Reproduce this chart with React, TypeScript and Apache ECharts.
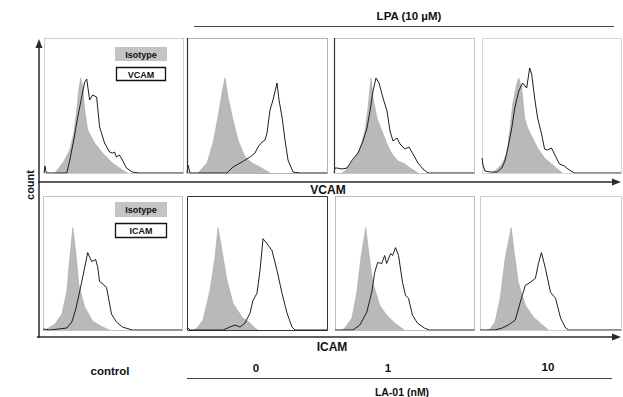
import React, { useEffect, useRef } from "react";
import * as echarts from "echarts";

// Channel (x) vs count (y) for each histogram panel.
// Top row: VCAM; bottom row: ICAM. Columns: control, LA-01 0, 1, 10 nM.
const panelConditions = ["control", "0", "1", "10"];
const markers = ["VCAM", "ICAM"];

const vcamControlIsotype = [[11,0],[19,10],[26,23],[30,40],[33,63],[35,83],[37,95],[39,86],[41,63],[44,43],[51,30],[59,20],[69,10],[79,3],[84,0]];
const vcamControlStain = [[0,0],[1,7],[2,1],[4,0],[23,0],[26,13],[30,33],[34,56],[38,76],[41,91],[43,94],[46,73],[49,78],[53,76],[56,46],[61,30],[66,21],[69,20],[71,21],[73,16],[76,18],[79,13],[83,5],[89,1],[96,0],[140,0]];

const vcamLA0Isotype = [[11,0],[20,10],[26,30],[31,56],[35,80],[38,95],[41,76],[46,53],[51,33],[58,16],[65,10],[73,6],[78,3],[83,0]];
const vcamLA0Stain = [[0,0],[1,8],[3,0],[40,0],[46,6],[55,11],[63,16],[68,20],[71,26],[75,31],[78,33],[80,40],[83,63],[86,73],[90,90],[92,73],[95,56],[98,33],[101,13],[106,1],[113,0],[140,0]];

const vcamLA1Isotype = [[8,0],[11,2],[19,12],[26,24],[31,42],[34,65],[37,95],[39,75],[43,55],[48,42],[53,29],[58,19],[64,12],[71,9],[76,5],[81,2],[84,0]];
const vcamLA1Stain = [[0,0],[1,5],[3,5],[8,4],[13,5],[19,14],[24,20],[29,32],[33,45],[36,62],[39,82],[42,95],[45,90],[49,75],[53,62],[56,42],[59,32],[63,35],[66,29],[71,24],[75,26],[79,19],[84,10],[89,4],[94,0],[140,0]];

const vcamLA10Isotype = [[10,0],[13,2],[20,9],[25,19],[28,42],[31,69],[35,89],[37,95],[40,85],[43,55],[46,45],[51,35],[56,25],[63,15],[70,9],[76,4],[81,0]];
const vcamLA10Stain = [[0,15],[1,8],[3,2],[8,1],[15,1],[20,5],[23,12],[26,25],[30,45],[33,65],[37,82],[41,90],[45,85],[48,105],[50,99],[53,75],[56,55],[60,39],[63,24],[66,23],[70,25],[73,19],[78,9],[83,7],[88,3],[93,0],[140,0]];

const icamControlIsotype = [[2,0],[4,1],[12,6],[19,16],[24,39],[27,73],[30,103],[33,79],[36,46],[42,23],[50,9],[60,3],[67,0]];
const icamControlStain = [[0,1],[7,0],[24,2],[29,8],[33,21],[37,39],[42,63],[45,78],[49,69],[53,71],[55,64],[57,49],[64,43],[69,16],[74,8],[80,3],[90,0],[140,0]];

const icamLA0Isotype = [[7,0],[10,2],[16,10],[23,40],[28,73],[31,103],[35,80],[40,50],[46,27],[55,13],[63,7],[68,2],[71,0]];
const icamLA0Stain = [[0,3],[3,0],[36,0],[43,3],[48,5],[53,3],[58,7],[63,17],[66,30],[70,37],[73,60],[76,92],[80,87],[85,80],[90,60],[95,37],[100,17],[105,3],[108,0],[140,0]];

const icamLA1Isotype = [[7,0],[10,2],[17,12],[22,38],[26,72],[31,103],[34,78],[38,48],[45,25],[52,15],[60,7],[67,2],[70,0]];
const icamLA1Stain = [[0,0],[18,0],[25,5],[32,18],[37,38],[40,58],[43,68],[47,67],[50,75],[52,67],[56,77],[58,75],[61,83],[64,75],[68,48],[71,35],[74,32],[78,15],[83,7],[90,2],[95,0],[140,0]];

const icamLA10Isotype = [[7,0],[10,1],[15,8],[20,32],[25,72],[31,103],[34,78],[38,48],[45,25],[53,13],[62,5],[68,0]];
const icamLA10Stain = [[0,0],[15,0],[22,2],[28,5],[35,10],[40,28],[45,45],[50,48],[55,52],[58,67],[61,78],[65,62],[70,38],[75,32],[80,12],[85,2],[88,0],[140,0]];

const isotypeSets = [vcamControlIsotype, vcamLA0Isotype, vcamLA1Isotype, vcamLA10Isotype, icamControlIsotype, icamLA0Isotype, icamLA1Isotype, icamLA10Isotype];
const stainSets = [vcamControlStain, vcamLA0Stain, vcamLA1Stain, vcamLA10Stain, icamControlStain, icamLA0Stain, icamLA1Stain, icamLA10Stain];

const channelMax = 140;
const countMax = 135;

export default function App() {
  const ref = useRef<HTMLDivElement>(null);
  useEffect(() => {
    if (!ref.current) return;
    const chart = echarts.init(ref.current, null, { renderer: "svg" });

    const gridBoxes = [
      { left: 44, top: 38, width: 139, height: 135 },
      { left: 187, top: 38, width: 140, height: 135 },
      { left: 334, top: 38, width: 140, height: 135 },
      { left: 482, top: 38, width: 139, height: 135 },
      { left: 43, top: 196, width: 139, height: 134 },
      { left: 187, top: 196, width: 140, height: 134 },
      { left: 335, top: 196, width: 139, height: 134 },
      { left: 480, top: 196, width: 141, height: 134 },
    ];

    const font = "bold 11.5px 'Liberation Sans', Arial, sans-serif";
    const dark = "#2a2a2a";

    const borders: any[] = [];
    const borderStyles = [
      { stroke: "#9a9a9a", dash: [1, 1] },
      { stroke: "#666", dash: [1, 1] },
      { stroke: "#8a8a8a", dash: [1, 1] },
      { stroke: "#aaa", dash: [1, 1] },
      { stroke: "#888", dash: [1, 1] },
      { stroke: "#333", dash: null },
      { stroke: "#777", dash: [1, 1] },
      { stroke: "#999", dash: [1, 1] },
    ];
    gridBoxes.forEach((g, i) => {
      const bs = borderStyles[i];
      borders.push({
        type: "rect",
        silent: true,
        shape: { x: g.left + 0.5, y: g.top + 0.5, width: g.width, height: g.height },
        style: { fill: "none", stroke: bs.stroke, lineWidth: 1, lineDash: bs.dash || undefined },
        z: 1,
      });
    });
    // solid left edges on the top row's 2nd and 3rd panels
    [1, 2].forEach((i) => {
      const g = gridBoxes[i];
      borders.push({
        type: "line", silent: true,
        shape: { x1: g.left + 0.5, y1: g.top, x2: g.left + 0.5, y2: g.top + g.height },
        style: { stroke: "#333", lineWidth: 1.2 }, z: 5,
      });
    });

    const graphic: any[] = [
      ...borders,
      // vertical count axis with arrow
      { type: "line", silent: true, shape: { x1: 39, y1: 338, x2: 39, y2: 46 }, style: { stroke: dark, lineWidth: 1.5 } },
      { type: "polygon", silent: true, shape: { points: [[35.5, 48], [42.5, 48], [39, 39]] }, style: { fill: dark } },
      // VCAM axis
      { type: "line", silent: true, shape: { x1: 38, y1: 182, x2: 614, y2: 182 }, style: { stroke: dark, lineWidth: 1.5 } },
      { type: "polygon", silent: true, shape: { points: [[612, 178.5], [612, 185.5], [621, 182]] }, style: { fill: dark } },
      // ICAM axis
      { type: "line", silent: true, shape: { x1: 37, y1: 337, x2: 614, y2: 337 }, style: { stroke: dark, lineWidth: 1.5 } },
      { type: "polygon", silent: true, shape: { points: [[612, 333.5], [612, 340.5], [621, 337]] }, style: { fill: dark } },
      // header / footer rules
      { type: "line", silent: true, shape: { x1: 194, y1: 26.5, x2: 614, y2: 26.5 }, style: { stroke: "#444", lineWidth: 1.2 } },
      { type: "line", silent: true, shape: { x1: 187, y1: 378.5, x2: 612, y2: 378.5 }, style: { stroke: "#444", lineWidth: 1.2 } },
      // texts
      { type: "text", silent: true, x: 409, y: 16, style: { text: "LPA (10 µM)", font: "bold 11.5px 'Liberation Sans', Arial, sans-serif", fill: "#111", align: "center", verticalAlign: "middle" } },
      { type: "text", silent: true, x: 328, y: 190, style: { text: markers[0], font: "bold 12px 'Liberation Sans', Arial, sans-serif", fill: "#111", align: "center", verticalAlign: "middle" } },
      { type: "text", silent: true, x: 332, y: 347, style: { text: markers[1], font: "bold 12px 'Liberation Sans', Arial, sans-serif", fill: "#111", align: "center", verticalAlign: "middle" } },
      { type: "text", silent: true, x: 30, y: 185, rotation: Math.PI / 2, style: { text: "count", font: "bold 11px 'Liberation Sans', Arial, sans-serif", fill: "#111", align: "center", verticalAlign: "middle" } },
      { type: "text", silent: true, x: 110, y: 371, style: { text: panelConditions[0], font, fill: "#111", align: "center", verticalAlign: "middle" } },
      { type: "text", silent: true, x: 256, y: 368, style: { text: panelConditions[1], font, fill: "#111", align: "center", verticalAlign: "middle" } },
      { type: "text", silent: true, x: 388, y: 368, style: { text: panelConditions[2], font, fill: "#111", align: "center", verticalAlign: "middle" } },
      { type: "text", silent: true, x: 548, y: 367, style: { text: panelConditions[3], font, fill: "#111", align: "center", verticalAlign: "middle" } },
      { type: "text", silent: true, x: 402, y: 392, style: { text: "LA-01 (nM)", font: "bold 10.5px 'Liberation Sans', Arial, sans-serif", fill: "#111", align: "center", verticalAlign: "middle" } },
      // legends
      { type: "rect", silent: true, shape: { x: 115, y: 47, width: 52, height: 14 }, style: { fill: "#c4c4c4" } },
      { type: "text", silent: true, x: 141, y: 54.5, style: { text: "Isotype", font: "bold 9px 'Liberation Sans', Arial, sans-serif", fill: "#111", align: "center", verticalAlign: "middle" } },
      { type: "rect", silent: true, shape: { x: 116.5, y: 67.5, width: 49, height: 13 }, style: { fill: "#fff", stroke: "#111", lineWidth: 1.3 } },
      { type: "text", silent: true, x: 141, y: 74.5, style: { text: markers[0], font: "bold 9px 'Liberation Sans', Arial, sans-serif", fill: "#111", align: "center", verticalAlign: "middle" } },
      { type: "rect", silent: true, shape: { x: 115, y: 202, width: 52, height: 15 }, style: { fill: "#c4c4c4" } },
      { type: "text", silent: true, x: 141, y: 210, style: { text: "Isotype", font: "bold 9px 'Liberation Sans', Arial, sans-serif", fill: "#111", align: "center", verticalAlign: "middle" } },
      { type: "rect", silent: true, shape: { x: 115.5, y: 223.5, width: 51, height: 14 }, style: { fill: "#fff", stroke: "#111", lineWidth: 1.3 } },
      { type: "text", silent: true, x: 141, y: 231, style: { text: markers[1], font: "bold 9px 'Liberation Sans', Arial, sans-serif", fill: "#111", align: "center", verticalAlign: "middle" } },
    ];

    const series: any[] = [];
    isotypeSets.forEach((d, i) => {
      series.push({
        type: "line", xAxisIndex: i, yAxisIndex: i, data: d,
        symbol: "none", silent: true, z: 2,
        lineStyle: { color: "#a8a8a8", width: 0.6 },
        areaStyle: { color: "#b9b9b9", opacity: 1 },
      });
    });
    stainSets.forEach((d, i) => {
      series.push({
        type: "line", xAxisIndex: i, yAxisIndex: i, data: d,
        symbol: "none", silent: true, z: 3,
        lineStyle: { color: "#1e1e1e", width: 1 },
      });
    });

    chart.setOption({
      animation: false,
      backgroundColor: "#fff",
      grid: gridBoxes.map((g) => ({ ...g, containLabel: false })),
      xAxis: gridBoxes.map((_, i) => ({ type: "value", gridIndex: i, min: 0, max: channelMax, show: false })),
      yAxis: gridBoxes.map((_, i) => ({ type: "value", gridIndex: i, min: 0, max: countMax, show: false })),
      series,
      graphic,
    });
    return () => chart.dispose();
  }, []);
  return <div ref={ref} style={{ position: "absolute", left: 0, top: 0, width: 623, height: 397, background: "#fff" }} />;
}
